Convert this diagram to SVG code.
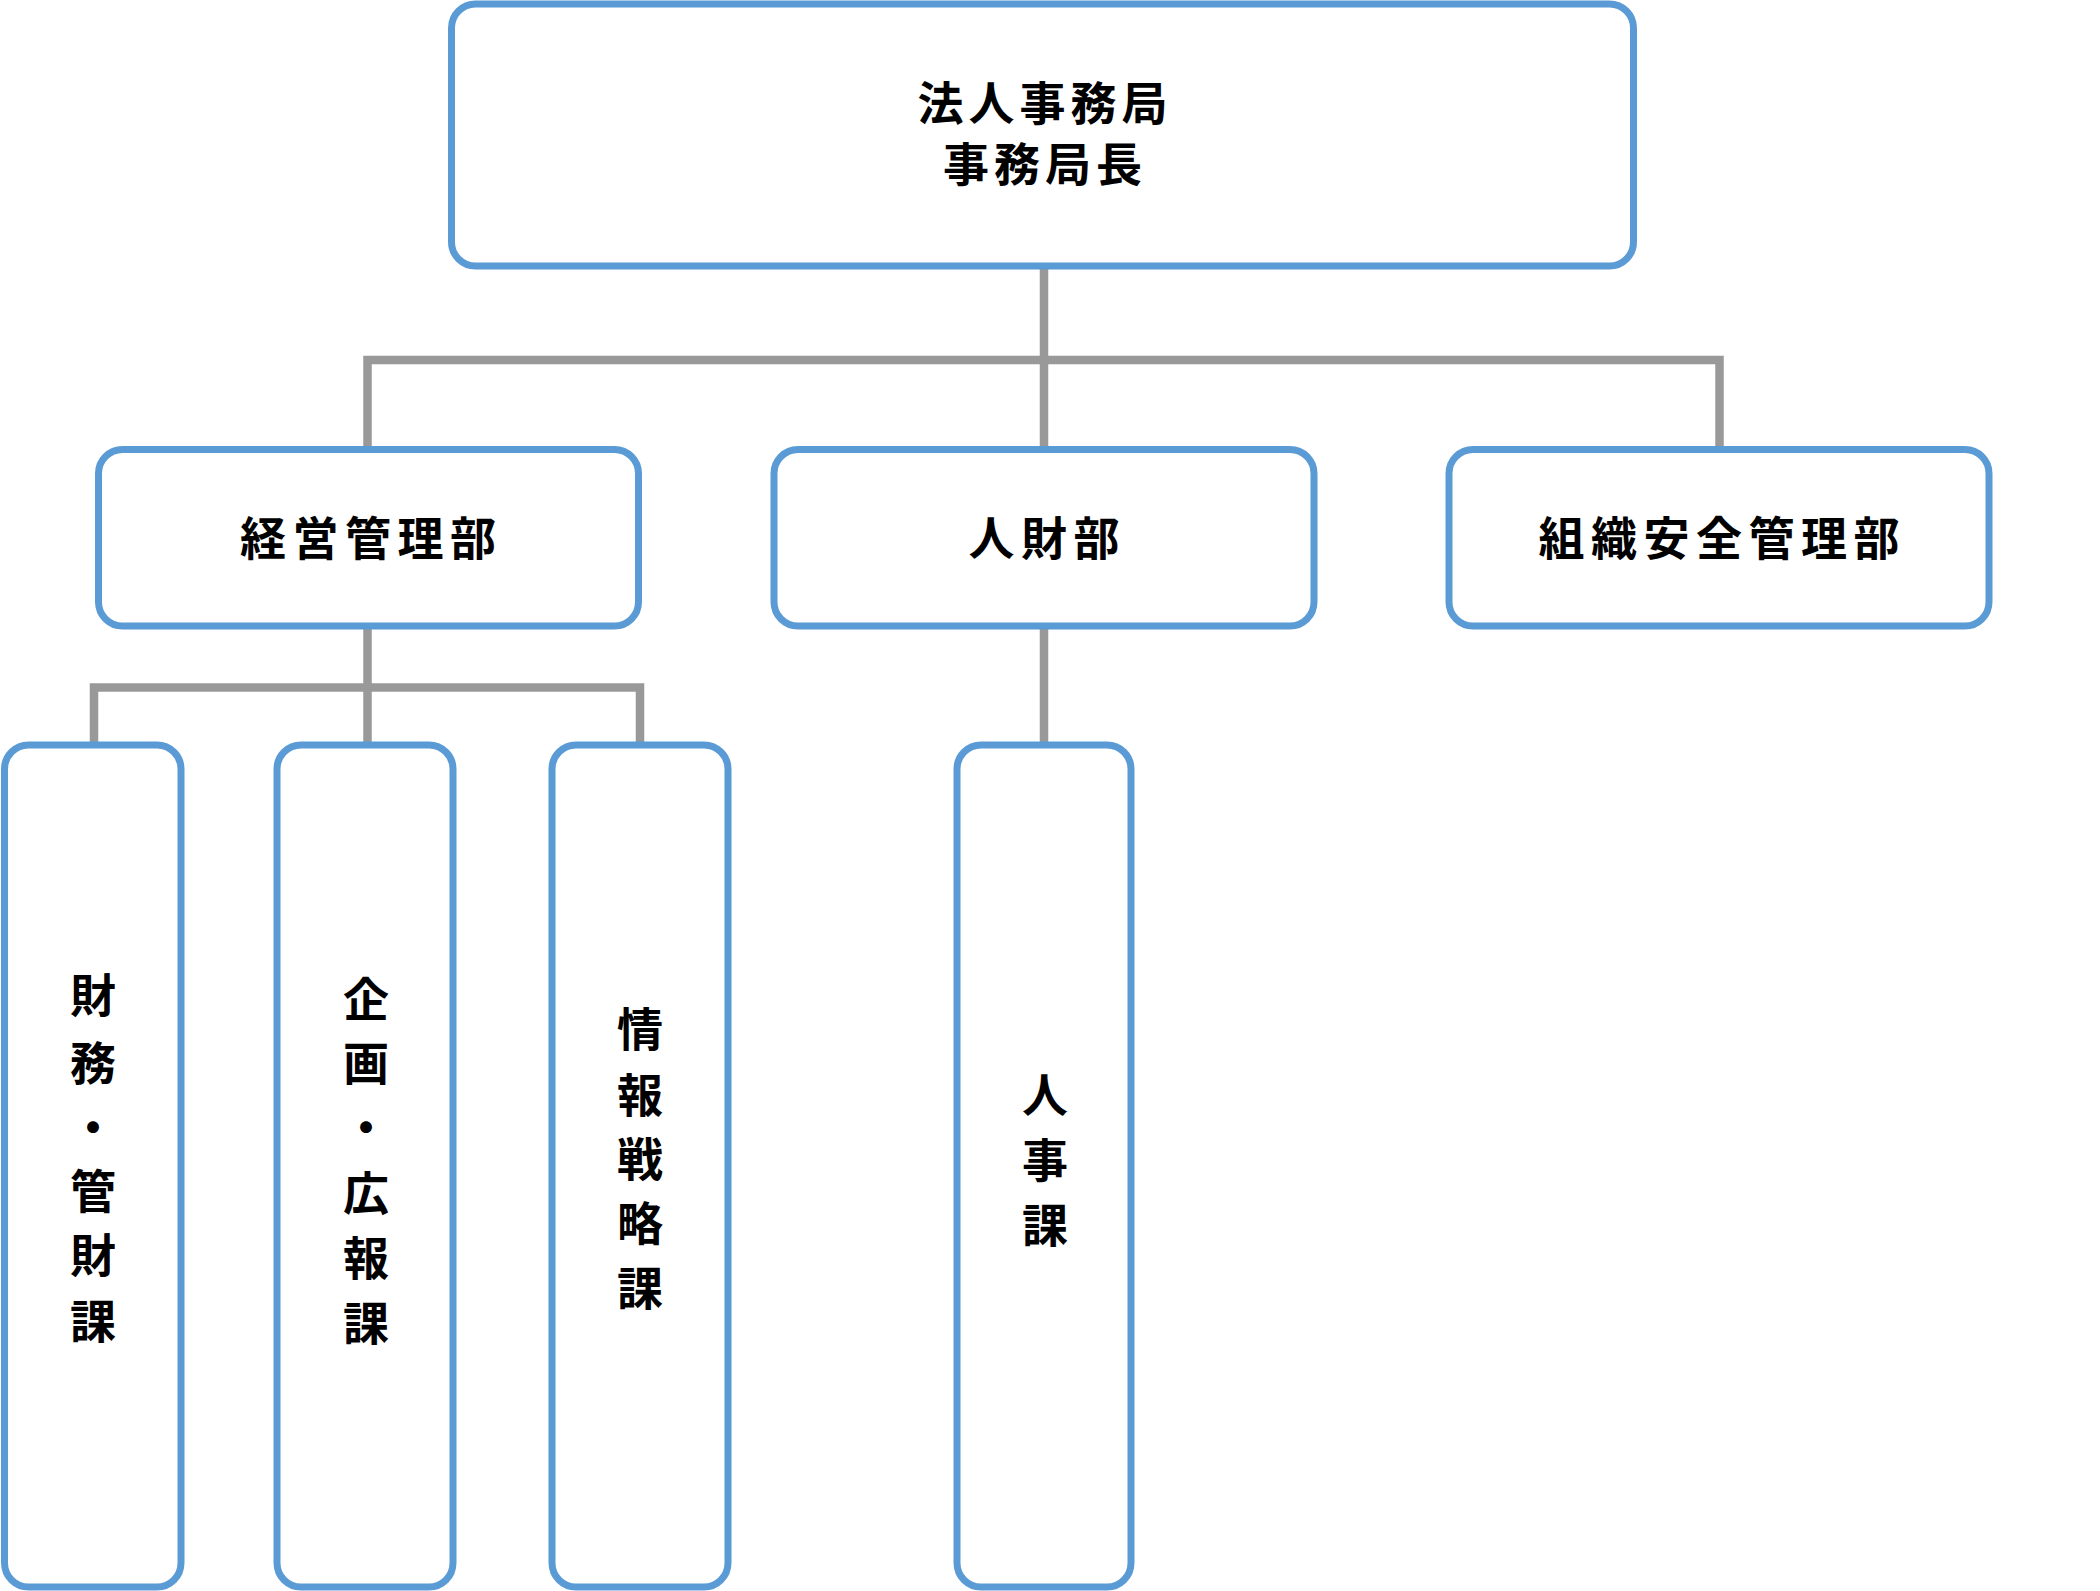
<svg xmlns="http://www.w3.org/2000/svg" width="2100" height="1591" viewBox="0 0 2100 1591">
<style>
.box{fill:#ffffff;stroke:#5B9BD5;stroke-width:7}
.conn{fill:none;stroke:#999999;stroke-width:8.5;stroke-linejoin:miter}
.t{font-family:"Noto Sans CJK JP","Noto Sans CJK SC",sans-serif;font-weight:700;font-size:46px;fill:#000000;text-anchor:middle}
.h{letter-spacing:6.5px}
.top{letter-spacing:5px}
</style>
<rect width="2100" height="1591" fill="#ffffff"/>
<g id="connectors">
<path class="conn" d="M1044 266 V360"/>
<path class="conn" d="M367.5 449 V360 H1719.5 V449"/>
<path class="conn" d="M1044 360 V449"/>
<path class="conn" d="M367.5 626 V687.5"/>
<path class="conn" d="M94 745 V687.5 H640 V745"/>
<path class="conn" d="M367.5 687.5 V745"/>
<path class="conn" d="M1044 626 V745"/>
</g>
<g id="node-top">
<rect class="box" x="451.5" y="4" width="1182" height="262" rx="24"/>
<text class="t top" x="1045" y="119.7">法人事務局</text>
<text class="t top" x="1045" y="181.2">事務局長</text>
</g>
<g id="node-keiei">
<rect class="box" x="98.5" y="449.5" width="540" height="176.5" rx="24"/>
<text class="t h" x="371.2" y="555.3">経営管理部</text>
</g>
<g id="node-jinzai">
<rect class="box" x="774" y="449.5" width="540" height="176.5" rx="24"/>
<text class="t h" x="1047.2" y="555.3">人財部</text>
</g>
<g id="node-soshiki">
<rect class="box" x="1449" y="449.5" width="540" height="176.5" rx="24"/>
<text class="t h" x="1722.2" y="555.3">組織安全管理部</text>
</g>
<g id="node-zaimu">
<rect class="box" x="4.5" y="745" width="176.5" height="842" rx="24"/>
<text class="t"><tspan x="93" y="1012">財</tspan><tspan x="93" y="1080">務</tspan><tspan x="93" y="1144">・</tspan><tspan x="93" y="1207.5">管</tspan><tspan x="93" y="1271.7">財</tspan><tspan x="93" y="1337.5">課</tspan></text>
</g>
<g id="node-kikaku">
<rect class="box" x="277" y="745" width="176" height="842" rx="24"/>
<text class="t"><tspan x="366" y="1015.5">企</tspan><tspan x="366" y="1079.5">画</tspan><tspan x="366" y="1144">・</tspan><tspan x="366" y="1209.5">広</tspan><tspan x="366" y="1274.5">報</tspan><tspan x="366" y="1339.5">課</tspan></text>
</g>
<g id="node-joho">
<rect class="box" x="552" y="745" width="176" height="842" rx="24"/>
<text class="t"><tspan x="640" y="1046">情</tspan><tspan x="640" y="1111.5">報</tspan><tspan x="640" y="1176">戦</tspan><tspan x="640" y="1240.3">略</tspan><tspan x="640" y="1304.5">課</tspan></text>
</g>
<g id="node-jinji">
<rect class="box" x="957" y="745" width="174" height="842" rx="24"/>
<text class="t"><tspan x="1045" y="1111.5">人</tspan><tspan x="1045" y="1176.5">事</tspan><tspan x="1045" y="1241.5">課</tspan></text>
</g>
</svg>
